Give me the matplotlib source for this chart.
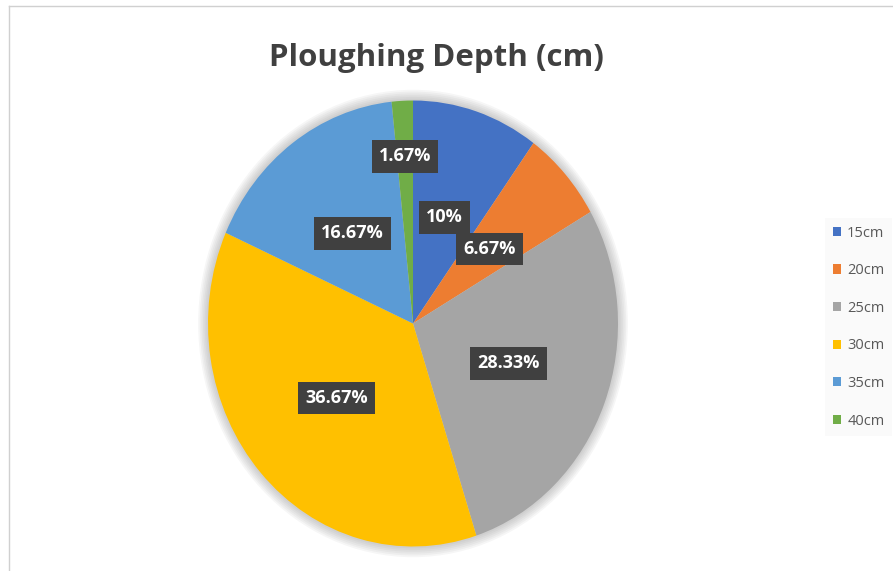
"""
Pie chart of ploughing depth shares (Excel-style recreation).
"""

import matplotlib
matplotlib.use("Agg")
import matplotlib.pyplot as plt
from matplotlib.patches import Ellipse
import numpy as np

# Data
depths = ["15cm", "20cm", "25cm", "30cm", "35cm", "40cm"]
counts = [6, 4, 17, 22, 10, 1]
pct_labels = ["10%", "6.67%", "28.33%", "36.67%", "16.67%", "1.67%"]
colors = ["#4472C4", "#ED7D31", "#A5A5A5", "#FFC000", "#5B9BD5", "#70AD47"]

title = "Ploughing Depth (cm)"

fig = plt.figure(figsize=(8.93, 5.71), dpi=100)
fig.patch.set_facecolor("white")

# chart border (top and left edge visible)
fig.add_artist(plt.Line2D([9 / 893, 9 / 893], [0, 1 - 6 / 571], color="#d0d0d0", lw=1))
fig.add_artist(plt.Line2D([9 / 893, 1], [1 - 6 / 571, 1 - 6 / 571], color="#d0d0d0", lw=1))

ax = fig.add_axes([0, 0, 1, 1])
ax.patch.set_alpha(0)

# soft glow/shadow around the pie
for k in range(6, 0, -1):
    s = 1 + 0.008 * k
    ax.add_patch(Ellipse((0, 0), 2 * s, 2 * s, facecolor="#808080", alpha=0.07,
                         edgecolor="none", zorder=1))

wedges, _ = ax.pie(counts, colors=colors, startangle=90, counterclock=False,
                   wedgeprops=dict(linewidth=0), labels=None)
for w in wedges:
    w.set_zorder(2)

# data labels in dark boxes
label_dist = [0.5, 0.5, 0.5, 0.5, 0.5, 0.75]
for w, txt, r in zip(wedges, pct_labels, label_dist):
    ang = np.deg2rad((w.theta1 + w.theta2) / 2)
    ax.text(r * np.cos(ang), r * np.sin(ang), txt, ha="center", va="center",
            color="white", fontsize=13, fontweight="bold", family="Open Sans",
            zorder=5,
            bbox=dict(boxstyle="square,pad=0.4", facecolor="#404040",
                      edgecolor="none"))

ax.set_aspect("auto")
ax.set_xlim(-413 / 205, (893 - 413) / 205)
ax.set_ylim((323.5 - 571) / 223, 323.5 / 223)
ax.axis("off")

fig.text(436 / 893, 1 - 58 / 571, title, ha="center", va="center",
         fontsize=22.5, fontweight="bold", family="Open Sans", color="#404040")

leg = ax.legend(wedges, depths, loc="upper left",
                bbox_to_anchor=(818 / 893, 1 - 211 / 571),
                bbox_transform=fig.transFigure, frameon=True,
                facecolor="#f9f9f9", edgecolor="none", fancybox=False,
                fontsize=10.5, handlelength=0.6, handleheight=0.6,
                handletextpad=0.4, labelspacing=1.55, borderpad=0.5)
for t in leg.get_texts():
    t.set_color("#595959")
    t.set_family("Open Sans")

plt.savefig("out.png", dpi=100)
